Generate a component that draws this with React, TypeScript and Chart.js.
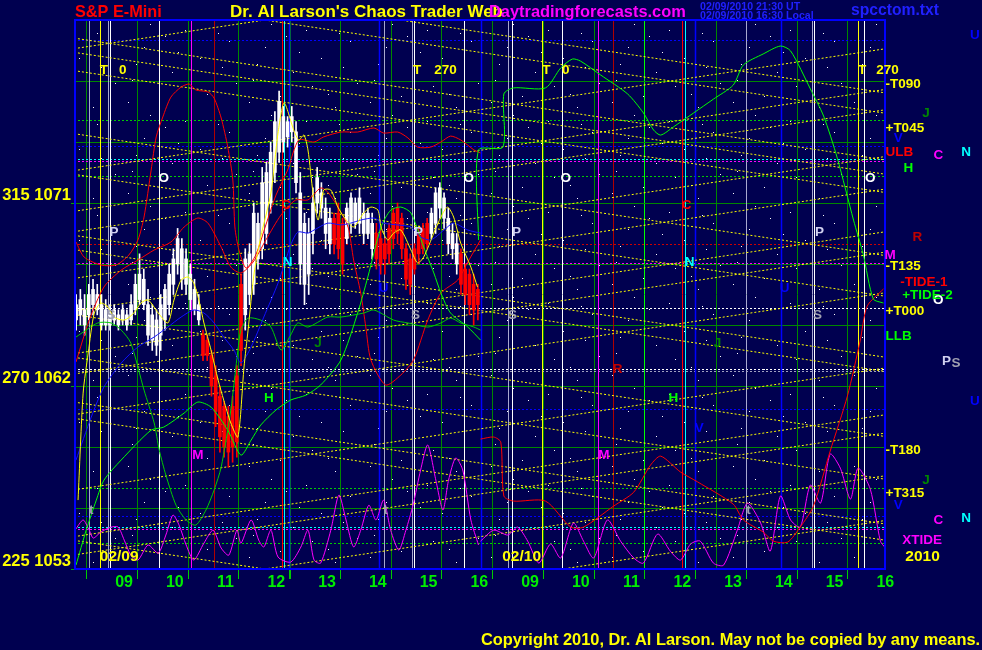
import React, { useEffect, useRef } from 'react';
import { Chart, registerables } from 'chart.js';

Chart.register(...registerables);

const FONT = '"Liberation Sans", Arial, sans-serif';
const BG = '#000050';

// ---------- axes ----------
const hourLabels = ['09', '10', '11', '12', '13', '14', '15', '16', '09', '10', '11', '12', '13', '14', '15', '16'];
const xMin = -0.75;
const xMax = 15.25;
const yMin = 1053;
const yMax = 1080;
const yTickLabels: Record<number, string> = { 1053: '225 1053', 1062: '270 1062', 1071: '315 1071' };

// ---------- 5-minute candles, 02/09 session ----------
const barStart = -0.75;
const barStep = 1 / 12;
const barOpen = [1065.25, 1065.5, 1065.0, 1065.5, 1066.0, 1065.75, 1065.0, 1065.0, 1065.0, 1065.25, 1065.0, 1065.25, 1065.0, 1065.25, 1065.75, 1066.25, 1066.0, 1064.5, 1064.25, 1064.0, 1064.5, 1065.25, 1066.0, 1067.0, 1068.0, 1067.25, 1067.0, 1066.25, 1065.75, 1065.25, 1064.5, 1064.25, 1063.5, 1062.5, 1061.5, 1061.0, 1060.5, 1061.0, 1062.5, 1067.0, 1065.5, 1066.5, 1067.0, 1068.25, 1068.75, 1069.5, 1071.0, 1072.5, 1073.5, 1074.0, 1074.25, 1074.5, 1072.0, 1068.0, 1067.0, 1067.5, 1069.5, 1071.0, 1070.75, 1069.5, 1069.0, 1070.25, 1070.5, 1070.0, 1069.25, 1070.0, 1070.0, 1070.0, 1069.5, 1069.5, 1068.75, 1069.5, 1069.25, 1069.0, 1069.75, 1070.5, 1070.75, 1070.25, 1068.75, 1068.25, 1068.75, 1069.5, 1069.75, 1070.0, 1069.5, 1070.0, 1070.75, 1070.25, 1069.0, 1068.75, 1068.0, 1068.5, 1067.75, 1067.5, 1067.0, 1066.75];
const barHigh = [1066.5, 1066.75, 1066.5, 1067.0, 1067.25, 1067.0, 1066.5, 1066.25, 1066.0, 1066.0, 1065.75, 1066.0, 1065.75, 1066.5, 1067.5, 1068.5, 1067.75, 1066.75, 1066.0, 1065.75, 1066.5, 1067.0, 1068.0, 1068.75, 1069.75, 1069.25, 1068.75, 1068.0, 1067.25, 1066.5, 1064.75, 1064.5, 1063.75, 1063.0, 1062.0, 1061.25, 1061.0, 1061.5, 1063.0, 1067.5, 1068.75, 1069.0, 1071.0, 1070.5, 1072.75, 1073.0, 1074.0, 1075.5, 1076.5, 1075.75, 1075.25, 1075.75, 1075.0, 1072.5, 1070.5, 1070.25, 1071.75, 1072.75, 1072.0, 1071.25, 1070.75, 1070.5, 1071.0, 1070.25, 1071.0, 1071.5, 1071.25, 1071.75, 1071.0, 1070.75, 1070.5, 1070.0, 1069.75, 1069.25, 1070.0, 1070.75, 1071.0, 1070.5, 1069.0, 1068.5, 1069.0, 1069.75, 1070.0, 1070.25, 1070.75, 1071.75, 1072.0, 1071.5, 1070.75, 1070.0, 1069.5, 1068.75, 1068.0, 1067.75, 1067.5, 1067.0];
const barLow = [1064.75, 1065.0, 1064.5, 1065.25, 1065.5, 1065.5, 1064.75, 1064.75, 1064.75, 1065.0, 1064.75, 1065.0, 1064.75, 1065.0, 1065.5, 1066.0, 1065.75, 1064.0, 1063.75, 1063.5, 1063.75, 1064.75, 1065.5, 1066.5, 1067.5, 1066.75, 1066.5, 1065.75, 1065.5, 1065.0, 1063.25, 1063.25, 1061.5, 1060.0, 1058.75, 1058.5, 1058.0, 1058.25, 1058.5, 1063.0, 1064.75, 1066.0, 1066.5, 1067.75, 1068.25, 1069.0, 1070.5, 1072.0, 1073.0, 1073.5, 1073.75, 1074.0, 1071.5, 1067.0, 1066.0, 1066.5, 1068.5, 1070.5, 1070.25, 1068.75, 1068.5, 1068.5, 1068.25, 1067.5, 1069.0, 1069.5, 1069.75, 1069.5, 1069.0, 1069.25, 1068.25, 1067.75, 1067.5, 1067.5, 1068.0, 1068.75, 1069.0, 1068.25, 1066.75, 1066.5, 1067.5, 1068.0, 1068.5, 1068.75, 1069.25, 1069.5, 1070.25, 1069.75, 1068.5, 1068.25, 1067.5, 1066.5, 1066.0, 1065.5, 1065.0, 1065.25];
const barClose = [1066.0, 1066.25, 1065.75, 1066.5, 1066.75, 1066.5, 1066.0, 1065.75, 1065.5, 1065.75, 1065.5, 1065.75, 1065.5, 1066.0, 1067.0, 1067.5, 1067.25, 1066.0, 1065.5, 1065.25, 1066.0, 1066.75, 1067.5, 1068.25, 1069.25, 1068.75, 1068.25, 1067.5, 1066.75, 1066.0, 1063.5, 1063.5, 1062.0, 1060.75, 1059.5, 1059.0, 1058.75, 1059.0, 1059.25, 1063.75, 1068.25, 1068.5, 1070.5, 1070.0, 1072.0, 1072.5, 1073.5, 1075.0, 1076.0, 1075.25, 1075.0, 1075.25, 1074.5, 1071.5, 1070.0, 1069.5, 1071.0, 1072.25, 1071.5, 1070.75, 1070.25, 1069.0, 1068.75, 1068.0, 1070.75, 1071.25, 1071.0, 1071.25, 1070.5, 1070.5, 1070.0, 1068.25, 1068.0, 1068.25, 1068.5, 1069.25, 1069.5, 1068.75, 1067.25, 1067.0, 1067.75, 1068.5, 1068.75, 1069.0, 1070.5, 1071.5, 1071.75, 1071.25, 1070.25, 1069.5, 1069.0, 1067.0, 1066.5, 1066.0, 1065.75, 1066.0];

// ---------- forecast / indicator curves [hour index, price] ----------
const tide1Day1 = [[-0.71, 1069.08], [-0.55, 1068.34], [-0.22, 1067.95], [0.08, 1067.95], [0.33, 1068.44], [0.51, 1069.18], [0.63, 1070.31], [0.77, 1072.62], [0.87, 1074.25], [1.0, 1075.23], [1.16, 1076.21], [1.36, 1076.7], [1.52, 1076.85], [1.65, 1076.56], [1.89, 1076.46], [2.01, 1076.16], [2.15, 1075.18], [2.28, 1073.75], [2.38, 1072.13], [2.42, 1069.82], [2.5, 1068.69], [2.64, 1067.8], [2.83, 1068.44], [3.03, 1069.92], [3.23, 1071.39], [3.46, 1072.62], [3.68, 1074.1], [3.98, 1074.0], [4.17, 1074.25], [4.51, 1074.49], [4.84, 1074.49], [5.16, 1074.69], [5.35, 1074.44], [5.63, 1074.49], [5.83, 1074.2], [6.02, 1073.75], [6.28, 1073.75], [6.48, 1074.0], [6.67, 1074.29], [6.87, 1074.1], [7.13, 1073.61], [7.26, 1073.46]];
const redCurveDay1 = [[-0.71, 1063.18], [-0.45, 1065.24], [-0.16, 1066.87], [0.18, 1067.7], [0.51, 1068.19], [0.83, 1068.69], [1.16, 1069.08], [1.42, 1069.82], [1.69, 1070.26], [1.89, 1070.01], [2.15, 1068.83], [2.34, 1067.85], [2.54, 1067.56], [2.78, 1068.1], [3.03, 1069.18], [3.33, 1070.41], [3.62, 1071.15], [3.86, 1071.15], [4.11, 1071.74], [4.25, 1071.54], [4.45, 1070.8], [4.65, 1069.82], [4.76, 1068.19], [4.9, 1066.57], [5.0, 1064.9], [5.1, 1063.28], [5.39, 1062.05], [5.69, 1062.54], [5.94, 1063.28], [6.22, 1065.24], [6.48, 1066.57], [6.81, 1067.21], [7.01, 1068.1], [7.26, 1069.18]];
const tide1Day2 = [[7.26, 1059.39], [7.52, 1059.49], [7.66, 1059.24], [7.72, 1056.59], [7.91, 1056.34], [8.54, 1056.34], [9.04, 1055.06], [9.29, 1055.06], [9.88, 1056.09], [10.28, 1056.78], [10.61, 1058.11], [10.81, 1058.55], [11.2, 1057.77], [11.54, 1057.28], [12.24, 1056.19], [12.44, 1055.41], [12.83, 1054.82], [13.03, 1054.37], [13.31, 1054.32], [13.56, 1055.06], [13.82, 1056.09], [14.15, 1058.8], [14.49, 1061.51], [14.74, 1064.21], [14.88, 1065.93], [15.2, 1066.77]];
const tide2Day2 = [[7.22, 1069.18], [7.22, 1073.61], [7.7, 1073.75], [7.72, 1076.36], [7.91, 1076.66], [8.54, 1076.66], [8.84, 1077.64], [9.07, 1078.08], [9.23, 1077.98], [9.63, 1077.29], [10.16, 1076.36], [10.47, 1075.43], [10.67, 1074.59], [10.81, 1074.34], [11.06, 1074.74], [11.46, 1075.43], [11.85, 1076.11], [12.24, 1076.8], [12.44, 1077.79], [12.83, 1078.33], [13.17, 1078.72], [13.37, 1078.48], [13.76, 1076.61], [14.02, 1075.28], [14.29, 1073.21], [14.61, 1070.16], [14.8, 1068.49], [15.0, 1066.28], [15.2, 1066.08]];
const tide2Day1 = [[-0.71, 1064.41], [-0.28, 1065.1], [-0.02, 1065.1], [0.18, 1064.75], [0.37, 1064.11], [0.63, 1061.8], [0.83, 1060.18], [0.93, 1058.85], [1.06, 1057.62], [1.26, 1056.14], [1.46, 1055.41], [1.65, 1055.16], [1.85, 1055.9], [2.01, 1056.88], [2.15, 1058.01], [2.34, 1060.82], [2.48, 1063.77], [2.54, 1064.75], [2.68, 1065.34], [2.93, 1065.24], [3.13, 1064.9], [3.33, 1063.77], [3.52, 1064.51], [3.66, 1065.1], [3.86, 1064.9], [4.25, 1065.39], [4.51, 1065.39], [4.96, 1065.59], [5.16, 1065.74], [5.55, 1065.24], [5.83, 1065.1], [6.22, 1064.9], [6.48, 1065.1], [6.67, 1065.34], [6.87, 1065.1], [7.13, 1064.9], [7.26, 1064.75]];
const greenCurveDay1 = [[-0.71, 1053.19], [-0.51, 1054.91], [-0.31, 1056.39], [-0.16, 1057.37], [0.18, 1058.36], [0.77, 1059.83], [1.02, 1059.98], [1.42, 1060.67], [1.69, 1061.21], [1.95, 1060.96], [2.28, 1059.83], [2.54, 1058.6], [2.74, 1059.34], [2.93, 1060.08], [3.23, 1060.82], [3.52, 1061.31], [3.82, 1061.55], [4.11, 1062.05], [4.51, 1063.28], [4.84, 1065.59], [5.04, 1067.36], [5.3, 1069.82], [5.49, 1070.65], [5.69, 1070.8], [5.89, 1070.51], [6.14, 1068.83], [6.34, 1067.56], [6.48, 1066.57], [6.67, 1065.59], [7.01, 1064.9], [7.26, 1064.26]];
const xtideDay1 = [[-0.73, 1054.91], [-0.57, 1055.41], [-0.45, 1054.91], [-0.37, 1054.52], [-0.22, 1054.82], [-0.02, 1055.06], [0.12, 1055.06], [0.24, 1054.42], [0.37, 1053.68], [0.51, 1053.44], [0.71, 1054.18], [0.91, 1053.78], [1.06, 1054.67], [1.2, 1055.65], [1.32, 1055.16], [1.46, 1054.18], [1.61, 1053.44], [1.81, 1054.27], [1.99, 1054.91], [2.15, 1054.03], [2.3, 1053.68], [2.46, 1054.91], [2.54, 1054.27], [2.74, 1055.41], [2.89, 1054.42], [2.99, 1054.08], [3.13, 1054.91], [3.27, 1053.59], [3.52, 1053.34], [3.72, 1054.08], [3.86, 1054.91], [3.98, 1053.44], [4.11, 1053.29], [4.31, 1054.91], [4.47, 1056.64], [4.61, 1055.41], [4.76, 1054.08], [4.9, 1054.91], [5.06, 1056.14], [5.2, 1055.41], [5.35, 1056.39], [5.49, 1054.91], [5.65, 1053.93], [5.79, 1054.91], [5.93, 1056.14], [6.08, 1057.87], [6.22, 1059.1], [6.38, 1057.37], [6.52, 1055.9], [6.63, 1057.37], [6.77, 1058.46], [6.91, 1057.87], [7.07, 1055.41], [7.22, 1054.18]];
const xtideDay2 = [[7.26, 1054.37], [7.52, 1054.91], [7.8, 1054.67], [7.99, 1055.06], [8.19, 1054.37], [8.41, 1053.29], [8.64, 1054.23], [8.84, 1053.54], [9.09, 1055.26], [9.29, 1054.37], [9.49, 1053.54], [9.76, 1055.41], [10.02, 1054.37], [10.28, 1053.54], [10.47, 1053.29], [10.75, 1054.72], [11.0, 1053.88], [11.2, 1053.44], [11.4, 1054.23], [11.59, 1054.37], [11.85, 1053.29], [12.05, 1053.19], [12.32, 1054.91], [12.52, 1056.24], [12.78, 1055.26], [12.97, 1053.88], [13.17, 1056.59], [13.37, 1055.41], [13.56, 1055.06], [13.76, 1057.13], [13.96, 1056.24], [14.15, 1058.65], [14.35, 1057.96], [14.55, 1056.44], [14.7, 1057.96], [14.94, 1056.93], [15.14, 1054.37], [15.24, 1054.03]];
const smoothPrice = [[-0.67, 1056.39], [-0.57, 1061.65], [-0.47, 1063.62], [-0.35, 1065.59], [-0.22, 1066.08], [-0.08, 1065.88], [0.04, 1065.39], [0.24, 1065.24], [0.43, 1065.59], [0.57, 1066.08], [0.71, 1066.23], [0.91, 1065.59], [1.1, 1065.1], [1.22, 1066.23], [1.36, 1067.21], [1.5, 1067.36], [1.61, 1067.06], [1.71, 1066.23], [1.81, 1065.1], [1.95, 1063.77], [2.09, 1062.29], [2.2, 1061.31], [2.34, 1060.18], [2.48, 1059.49], [2.6, 1062.93], [2.68, 1064.75], [2.8, 1067.56], [2.93, 1069.33], [3.13, 1071.49], [3.27, 1074.44], [3.39, 1075.92], [3.58, 1074.59], [3.68, 1074.1], [3.78, 1074.34], [3.86, 1073.61], [3.96, 1071.49], [4.06, 1070.16], [4.17, 1071.64], [4.31, 1071.64], [4.45, 1070.8], [4.57, 1070.31], [4.76, 1069.82], [4.96, 1070.51], [5.1, 1070.8], [5.24, 1070.65], [5.3, 1069.82], [5.43, 1069.18], [5.55, 1069.52], [5.69, 1069.67], [5.89, 1068.69], [6.02, 1068.05], [6.14, 1068.34], [6.34, 1069.52], [6.48, 1070.31], [6.61, 1070.8], [6.73, 1070.31], [6.87, 1069.03], [7.07, 1067.85], [7.2, 1066.87]];
const slowAverage = [[-0.71, 1058.36], [-0.41, 1060.47], [-0.16, 1061.95], [0.18, 1063.13], [0.51, 1063.92], [0.83, 1064.41], [1.1, 1064.9], [1.36, 1065.39], [1.61, 1065.74], [1.81, 1065.59], [2.01, 1065.1], [2.2, 1064.41], [2.4, 1063.77], [2.54, 1063.13], [2.74, 1063.92], [2.99, 1065.39], [3.27, 1067.06], [3.52, 1068.93], [3.66, 1069.57], [3.86, 1069.52], [3.98, 1069.67], [4.25, 1070.01], [4.51, 1069.92], [4.7, 1070.01], [4.9, 1070.16], [5.16, 1070.26], [5.35, 1070.01], [5.63, 1069.92], [5.89, 1069.82], [6.08, 1069.33], [6.28, 1069.18], [6.54, 1069.67], [6.73, 1070.01], [7.01, 1069.67], [7.26, 1069.52]];

// ---------- time/price angle lines [u1, p1, u2, p2] ----------
const tpLinesNoon = [
  [-0.75, 1051.59, 15.25, 1057.59], [-0.75, 1060.41, 15.25, 1054.41],
  [-0.75, 1054.59, 15.25, 1060.59], [-0.75, 1063.41, 15.25, 1057.41],
  [-0.75, 1060.59, 15.25, 1066.59], [-0.75, 1069.41, 15.25, 1063.41],
  [-0.75, 1063.59, 15.25, 1069.59], [-0.75, 1072.41, 15.25, 1066.41],
  [-0.75, 1069.59, 15.25, 1075.59], [-0.75, 1078.41, 15.25, 1072.41],
  [-0.75, 1072.59, 15.25, 1078.59], [-0.75, 1081.41, 15.25, 1075.41],
  [-0.75, 1078.59, 15.25, 1084.59], [-0.75, 1054.41, 15.25, 1048.41],
];
const tpLinesClose = [
  [-0.75, 1070.59, 15.25, 1076.59], [-0.75, 1082.41, 15.25, 1076.41],
  [-0.75, 1067.29, 15.25, 1073.29], [-0.75, 1079.11, 15.25, 1073.11],
  [-0.75, 1065.69, 15.25, 1071.69], [-0.75, 1077.51, 15.25, 1071.51],
  [-0.75, 1062.59, 15.25, 1068.59], [-0.75, 1074.41, 15.25, 1068.41],
  [-0.75, 1056.89, 15.25, 1062.89], [-0.75, 1068.71, 15.25, 1062.71],
  [-0.75, 1053.69, 15.25, 1059.69], [-0.75, 1065.51, 15.25, 1059.51],
  [-0.75, 1049.39, 15.25, 1055.39], [-0.75, 1061.21, 15.25, 1055.21],
];

// ---------- horizontal price levels ----------
const levelsGreenDot = [1075.1, 1072.35, 1057.0, 1054.3];
const levelsBlueDot = [1079.0, 1073.8, 1060.85, 1055.6];
const levelsCyanDot = [1073.15, 1055.05];
const levelsMagentaDot = [1073.05, 1068.05, 1054.95];
const levelsRedDot = [1069.0];
const levelsWhiteDot = [1065.85, 1062.85];
const levelsGreyDot = [1062.75];

// ---------- vertical time lines ----------
const timesWhite = [-0.04, 0.93, 5.95, 6.93, 7.89, 8.86, 13.84, 14.82];
const timesLavender = [-0.45, -0.08, 5.35, 5.91, 7.8, 12.5, 13.8];
const timesYellow = [-0.24, 8.48, 14.69];
const timesMagenta = [1.56, 9.57];
const timesDarkRed = [2.0, 9.88];
const timesRed = [3.35, 11.24];
const timesCyan = [3.39, 11.28];
const timesBlue = [3.48, 5.26, 7.27, 11.48, 13.19];
const timesGreen = [11.91];

// ---------- annotations [text, hour index, price, colour key] ----------
const plotLetters: [string, number, number, string][] = [
  ['T', -0.16, 1077.55, 'yellow'], ['0', 0.21, 1077.55, 'yellow'],
  ['T', 6.01, 1077.55, 'yellow'], ['270', 6.57, 1077.55, 'yellow'],
  ['O', 1.02, 1072.23, 'white'], ['O', 7.03, 1072.23, 'white'],
  ['P', 0.04, 1069.57, 'lavender'], ['P', 6.04, 1069.57, 'lavender'],
  ['S', -0.02, 1065.49, 'grey'], ['S', 5.98, 1065.49, 'grey'],
  ['N', 3.46, 1068.1, 'cyan'], ['C', 3.43, 1070.9, 'red'],
  ['M', 1.69, 1058.6, 'magenta'], ['J', 4.06, 1064.1, 'dkgreen'],
  ['H', 3.09, 1061.4, 'green'], ['U', 5.35, 1066.8, 'blue'],
  ['t', -0.41, 1055.9, 'grey'], ['t', 5.39, 1055.9, 'grey'],
  ['T', 8.56, 1077.55, 'yellow'], ['0', 8.94, 1077.55, 'yellow'],
  ['T', 14.78, 1077.55, 'yellow'], ['270', 15.28, 1077.55, 'yellow'],
  ['O', 8.94, 1072.23, 'white'], ['O', 14.94, 1072.23, 'white'],
  ['P', 7.97, 1069.57, 'lavender'], ['P', 13.94, 1069.57, 'lavender'],
  ['S', 7.89, 1065.49, 'grey'], ['S', 13.9, 1065.49, 'grey'],
  ['C', 11.32, 1070.9, 'red'], ['N', 11.38, 1068.1, 'cyan'],
  ['U', 13.25, 1066.8, 'blue'], ['J', 11.93, 1064.1, 'dkgreen'],
  ['R', 9.96, 1062.8, 'dkred'], ['H', 11.06, 1061.4, 'green'],
  ['V', 11.57, 1059.9, 'blue'], ['M', 9.69, 1058.6, 'magenta'],
  ['t', 12.54, 1055.9, 'grey'],
  ['J', 16.04, 1075.43, 'dkgreen'], ['V', 15.49, 1074.2, 'blue'],
  ['C', 16.28, 1073.36, 'magenta'], ['N', 16.83, 1073.5, 'cyan'],
  ['H', 15.69, 1072.7, 'green'], ['R', 15.87, 1069.33, 'dkred'],
  ['M', 15.33, 1068.44, 'magenta'], ['O', 16.28, 1066.23, 'white'],
  ['P', 16.44, 1063.2, 'lavender'], ['S', 16.63, 1063.1, 'grey'],
  ['U', 17.0, 1061.26, 'blue'], ['J', 16.04, 1057.37, 'dkgreen'],
  ['V', 15.49, 1056.14, 'blue'], ['C', 16.28, 1055.41, 'magenta'],
  ['N', 16.83, 1055.5, 'cyan'], ['U', 17.0, 1079.26, 'blue'],
];
const levelNames: [string, number, number, string][] = [
  ['-T090', 15.24, 1076.85, 'yellow'], ['+T045', 15.24, 1074.69, 'yellow'],
  ['ULB', 15.24, 1073.5, 'red'], ['-T135', 15.24, 1067.9, 'yellow'],
  ['-TIDE-1', 15.53, 1067.11, 'red'], ['+TIDE-2', 15.57, 1066.47, 'green'],
  ['+T000', 15.24, 1065.69, 'yellow'], ['LLB', 15.24, 1064.46, 'green'],
  ['-T180', 15.24, 1058.85, 'yellow'], ['+T315', 15.24, 1056.73, 'yellow'],
  ['XTIDE', 15.57, 1054.42, 'magenta'],
];
const dateNames: [string, number, number][] = [['02/09', 0.14, 1053.6], ['02/10', 8.07, 1053.6], ['2010', 15.63, 1053.6]];

const PAL: Record<string, string> = {
  yellow: '#ffff00', white: '#ffffff', lavender: '#d0d0f0', grey: '#a0a0b0', cyan: '#00ffff',
  red: '#ff0000', dkred: '#c00000', magenta: '#ff00ff', dkgreen: '#008800', green: '#00ff00', blue: '#0000ff',
};

// star-field background texture tile (decoration only)
const STAR_TILE = { w: 121, h: 91 };
const starSpots = [[7, 11], [23, 47], [38, 5], [51, 72], [64, 30], [79, 58], [93, 16], [108, 41], [115, 83], [15, 64], [44, 36], [70, 86], [86, 3], [101, 67], [29, 24], [57, 52], [11, 80], [97, 33]];

const pts = (arr: number[][]) => arr.map(([x, y]) => ({ x, y }));

export default function App() {
  const ref = useRef<HTMLCanvasElement>(null);

  useEffect(() => {
    if (!ref.current) return;
    const barU = barOpen.map((_, i) => barStart + (i + 0.5) * barStep);
    const barCol = barOpen.map((o, i) => (barClose[i] >= o ? '#ffffff' : '#ff0000'));

    const tile = document.createElement('canvas');
    tile.width = STAR_TILE.w; tile.height = STAR_TILE.h;
    const tc = tile.getContext('2d')!;
    tc.fillStyle = '#ffffff';
    starSpots.forEach(([x, y]) => tc.fillRect(x, y, 1, 1));

    const curve = (data: number[][], color: string, order: number, width = 1) => ({
      type: 'line', data: pts(data), borderColor: color, borderWidth: width, pointRadius: 0,
      tension: 0.25, order, fill: false,
    });

    const datasets: any[] = [];
    [...tpLinesNoon, ...tpLinesClose].forEach((l) => datasets.push({
      type: 'line', data: [{ x: l[0], y: l[1] }, { x: l[2], y: l[3] }], borderColor: '#ffff00',
      borderWidth: 1, borderDash: [2, 2], pointRadius: 0, order: 100,
    }));
    datasets.push(curve(xtideDay1, '#ff00ff', 40));
    datasets.push(curve(xtideDay2, '#ff00ff', 40));
    datasets.push({ type: 'bar', data: barU.map((x, i) => ({ x, y: [barLow[i], barHigh[i]] })), backgroundColor: barCol, barThickness: 1, grouped: false, order: 30 });
    datasets.push({ type: 'bar', data: barU.map((x, i) => ({ x, y: [barOpen[i], barClose[i]] })), backgroundColor: barCol, barThickness: 3, grouped: false, order: 29, minBarLength: 1 });
    datasets.push(curve(tide2Day1, '#00cc00', 20));
    datasets.push(curve(greenCurveDay1, '#00ff00', 20));
    datasets.push(curve(tide2Day2, '#00ff00', 20));
    datasets.push(curve(tide1Day1, '#ff0000', 20));
    datasets.push(curve(redCurveDay1, '#ff0000', 20));
    datasets.push(curve(tide1Day2, '#ff0000', 20));
    datasets.push(curve(slowAverage, '#1010ff', 10));
    datasets.push(curve(smoothPrice, '#ffff00', 5));

    const decor = {
      id: 'decor',
      beforeDraw(chart: any) {
        const c = chart.ctx; const a = chart.chartArea;
        c.save(); c.fillStyle = BG; c.fillRect(0, 0, chart.width, chart.height);
        const pat = c.createPattern(tile, 'repeat');
        if (pat) { c.fillStyle = pat; c.fillRect(a.left, a.top, a.right - a.left, a.bottom - a.top); }
        c.restore();
      },
      beforeDatasetsDraw(chart: any) {
        const c = chart.ctx; const a = chart.chartArea; const xs = chart.scales.x; const ys = chart.scales.y;
        c.save();
        c.beginPath(); c.rect(a.left, a.top, a.right - a.left, a.bottom - a.top); c.clip();
        const hl = (lv: number[], col: string) => {
          c.strokeStyle = col; c.lineWidth = 1; c.setLineDash([2, 2]);
          lv.forEach((v) => { const y = Math.round(ys.getPixelForValue(v)) + 0.5; c.beginPath(); c.moveTo(a.left, y); c.lineTo(a.right, y); c.stroke(); });
        };
        const vl = (tv: number[], col: string, w = 1) => {
          c.strokeStyle = col; c.lineWidth = w; c.setLineDash([]);
          tv.forEach((v) => { const x = Math.round(xs.getPixelForValue(v)) + 0.5; c.beginPath(); c.moveTo(x, a.top); c.lineTo(x, a.bottom); c.stroke(); });
        };
        hl(levelsGreenDot, '#00cc00'); hl(levelsBlueDot, '#0000ff'); hl(levelsCyanDot, '#00ffff');
        hl(levelsMagentaDot, '#ff00ff'); hl(levelsRedDot, '#cc0000'); hl(levelsWhiteDot, '#ffffff'); hl(levelsGreyDot, '#a0a0c0');
        vl(timesLavender, '#a8a8d0'); vl(timesWhite, '#ffffff'); vl(timesYellow, '#ffff00'); vl(timesMagenta, '#ff00ff');
        vl(timesDarkRed, '#b00000'); vl(timesRed, '#ff0000'); vl(timesCyan, '#00ffff'); vl(timesBlue, '#0000ff', 1.5); vl(timesGreen, '#008800');
        c.restore();
      },
      afterDatasetsDraw(chart: any) {
        const c = chart.ctx; const a = chart.chartArea; const xs = chart.scales.x; const ys = chart.scales.y;
        c.save();
        c.strokeStyle = '#0000ff'; c.lineWidth = 2; c.setLineDash([]);
        c.strokeRect(a.left + 1, a.top, a.right - a.left - 2, a.bottom - a.top);
        c.textBaseline = 'middle';
        c.font = `bold 13.5px ${FONT}`; c.textAlign = 'center';
        plotLetters.forEach(([t, u, p, k]) => { c.fillStyle = PAL[k]; c.fillText(t, xs.getPixelForValue(u), ys.getPixelForValue(p)); });
        c.textAlign = 'left';
        levelNames.forEach(([t, u, p, k]) => { c.fillStyle = PAL[k]; c.fillText(t, xs.getPixelForValue(u), ys.getPixelForValue(p)); });
        c.font = `bold 15.5px ${FONT}`; c.fillStyle = '#ffff00';
        dateNames.forEach(([t, u, p], i) => { c.textAlign = i < 2 ? 'center' : 'left'; c.fillText(t, xs.getPixelForValue(u), ys.getPixelForValue(p)); });
        c.restore();
      },
      afterDraw(chart: any) {
        const c = chart.ctx;
        c.save(); c.textBaseline = 'alphabetic'; c.textAlign = 'left';
        c.font = `bold 16.3px ${FONT}`; c.fillStyle = '#ff0000'; c.fillText('S&P E-Mini', 75, 17);
        c.font = `bold 17px ${FONT}`; c.fillStyle = '#ffff00'; c.fillText("Dr. Al Larson's Chaos Trader Web", 230, 17);
        c.font = `bold 16.4px ${FONT}`; c.fillStyle = '#ff00ff'; c.fillText('Daytradingforecasts.com', 489, 17);
        c.font = `bold 10.6px ${FONT}`; c.fillStyle = '#2020ff';
        c.fillText('02/09/2010 21:30 UT', 700, 9.5); c.fillText('02/09/2010 16:30 Local', 700, 18.5);
        c.font = `bold 15.7px ${FONT}`; c.fillText('spcctom.txt', 851, 15);
        c.font = `bold 16.4px ${FONT}`; c.fillStyle = '#ffff00';
        c.fillText('Copyright 2010, Dr. Al Larson. May not be copied by any means.', 481, 645);
        c.restore();
      },
    };

    const chart = new Chart(ref.current, {
      type: 'line',
      data: { datasets },
      options: {
        responsive: false, animation: false, events: [],
        layout: { padding: { top: 20, right: 96, left: 0, bottom: 0 } },
        plugins: { legend: { display: false }, tooltip: { enabled: false } },
        scales: {
          x: {
            type: 'linear', min: xMin, max: xMax, offset: false,
            afterFit: (s: any) => { s.height = 81; },
            afterBuildTicks: (s: any) => { s.ticks = hourLabels.map((_, i) => ({ value: i })); },
            border: { display: false },
            grid: {
              color: (cx: any) => (cx.tick && cx.tick.value === 11 ? '#00ff00' : '#008800'),
              lineWidth: (cx: any) => (cx.tick && cx.tick.value === 4 ? 2 : 1),
              tickLength: 10, tickColor: '#00cc00',
            },
            ticks: {
              autoSkip: false, maxRotation: 0, labelOffset: 12, padding: -6,
              color: '#00ee00', font: { family: FONT, size: 16, weight: 'bold' },
              callback: (v: any) => hourLabels[Math.round(v)] ?? '',
            },
          },
          y: {
            type: 'linear', min: yMin, max: yMax,
            afterFit: (s: any) => { s.width = 74; },
            border: { display: false },
            grid: {
              color: '#008800', tickLength: 3,
              tickColor: (cx: any) => (cx.tick && yTickLabels[cx.tick.value] ? '#00aa00' : 'rgba(0,0,0,0)'),
            },
            ticks: {
              stepSize: 3, padding: 0, labelOffset: -8, color: '#ffff00',
              font: { family: FONT, size: 16.5, weight: 'bold' },
              callback: (v: any) => yTickLabels[v] ?? '',
            },
          },
        },
      },
      plugins: [decor],
    } as any);
    return () => chart.destroy();
  }, []);

  return (
    <div style={{ position: 'absolute', left: 0, top: 0, width: 982, height: 650, background: BG }}>
      <canvas ref={ref} width={982} height={650} style={{ display: 'block' }} />
    </div>
  );
}
